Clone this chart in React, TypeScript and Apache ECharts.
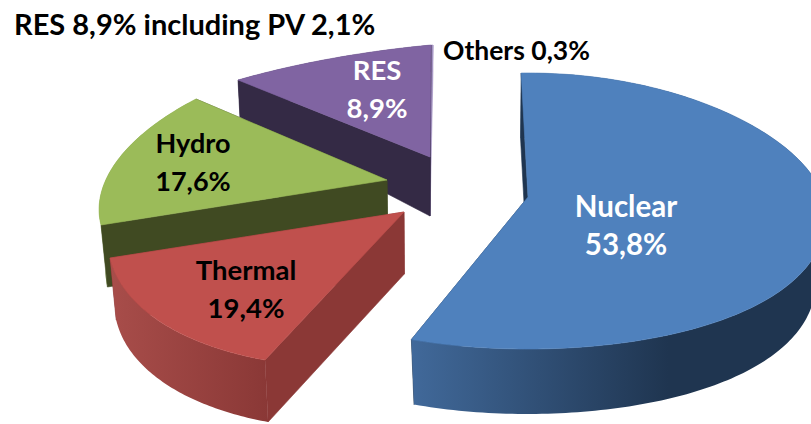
import React, { useEffect, useRef } from "react";
import * as echarts from "echarts";

const titleText = "RES 8,9% including PV 2,1%";
const categories = ["Nuclear", "Thermal", "Hydro", "RES", "Others"];
const shares = [53.8, 19.4, 17.6, 8.9, 0.3];

type Pt = [number, number];
const FONT = "Lato, Carlito, 'Open Sans', sans-serif";

// Layout of the tilted, exploded slices (projection frames; the angles come from the shares).
const sliceLayout: any[] = [
  {
    apex: [528, 197] as Pt, ellipse: { A: 295, p: 0.13, up: 124, down: 152, rot: -1.5, stretch: 1.042 },
    depth: [65, 65], dy: [0, 400], kx: 0.03, pivot: 500,
    top: "#4f81bd", cut: "#1f3550", wall: [[0, "#41699a"], [0.62, "#1f3550"], [1, "#1f3550"]],
  },
  {
    apex: [404, 212] as Pt, from: [265, 360] as Pt, to: [110, 258] as Pt, squash: 0.79,
    depth: [62, 62], dy: [0, 400], kx: 0.02, pivot: 420,
    top: "#c0504d", cut: "#8b3836", wall: [[0, "#a84d4a"], [1, "#8a3836"]],
  },
  {
    apex: [387, 180] as Pt, from: [101, 225] as Pt, to: [196, 99] as Pt, squash: 0.87,
    depth: [62, 62], dy: [0, 400], kx: 0.02, pivot: 420,
    top: "#9bbb59", cut: "#404a22", wall: [[0, "#7f9a48"], [1, "#7f9a48"]],
  },
  {
    apex: [430, 157] as Pt, from: [238, 80] as Pt, to: [431, 45] as Pt, squash: 1,
    depth: [37, 59], dy: [80, 157], kx: 0.01, pivot: 430,
    top: "#8064a2", cut: "#342a45", wall: [[0, "#342a45"], [1, "#342a45"]],
  },
  {
    apex: [430, 157] as Pt, from: [431, 45] as Pt, to: [433, 45] as Pt, squash: 1,
    depth: [37, 59], dy: [80, 157], kx: 0.01, pivot: 430,
    top: "#a696c4", cut: "#a696c4", wall: [[0, "#a696c4"], [1, "#a696c4"]],
  },
];

const labelLayout = [
  { x: 626, y: 224, color: "#ffffff", size: 29.5 },
  { x: 246, y: 288, color: "#000000", size: 27.5 },
  { x: 193, y: 161, color: "#000000", size: 27 },
  { x: 377, y: 88, color: "#ffffff", size: 27.5 },
];

const fmt = (v: number) => v.toFixed(1).replace(".", ",") + "%";
const rad = (d: number) => (d * Math.PI) / 180;

const cumulative: number[] = [];
shares.reduce((sum, v, i) => {
  cumulative[i] = sum;
  return sum + v;
}, 0);
const total = shares.reduce((a, b) => a + b, 0);
const startAngle = (i: number) => (cumulative[i] / total) * 360;
const endAngle = (i: number) => ((cumulative[i] + shares[i]) / total) * 360;

function frameFor(i: number): (deg: number) => Pt {
  const L = sliceLayout[i];
  if (L.ellipse) {
    const e = L.ellipse;
    return (deg) => {
      const t = rad(e.rot + deg * e.stretch);
      const u = Math.sin(t);
      const v = -Math.cos(t);
      return [L.apex[0] + (e.A * u) / (1 - e.p * v), L.apex[1] + v * (v < 0 ? e.up : e.down)];
    };
  }
  const d0 = startAngle(i);
  const d1 = endAngle(i);
  const mid = (d0 + d1) / 2;
  const warp = (deg: number) => rad(mid + (deg - mid) * L.squash);
  const a = warp(d0);
  const b = warp(d1);
  const c1 = Math.cos(a), s1 = Math.sin(a), c2 = Math.cos(b), s2 = Math.sin(b);
  const det = c1 * s2 - c2 * s1;
  const p1 = [L.from[0] - L.apex[0], L.from[1] - L.apex[1]];
  const p2 = [L.to[0] - L.apex[0], L.to[1] - L.apex[1]];
  const up = [(p1[0] * s2 - p2[0] * s1) / det, (p1[1] * s2 - p2[1] * s1) / det];
  const right = [(c1 * p2[0] - c2 * p1[0]) / det, (c1 * p2[1] - c2 * p1[1]) / det];
  return (deg) => {
    const t = warp(deg);
    return [
      L.apex[0] + up[0] * Math.cos(t) + right[0] * Math.sin(t),
      L.apex[1] + up[1] * Math.cos(t) + right[1] * Math.sin(t),
    ];
  };
}

function renderSlice(params: any) {
  const i = shares.length - 1 - params.dataIndex;
  const L = sliceLayout[i];
  const P = frameFor(i);
  const a0 = startAngle(i);
  const a1 = endAngle(i);
  const steps = Math.max(4, Math.ceil(a1 - a0));
  const arc: Pt[] = [];
  for (let s = 0; s <= steps; s++) arc.push(P(a0 + ((a1 - a0) * s) / steps));
  const below = (q: Pt): Pt => {
    const f = (q[1] - L.dy[0]) / (L.dy[1] - L.dy[0]);
    return [q[0] + (L.pivot - q[0]) * L.kx, q[1] + L.depth[0] + (L.depth[1] - L.depth[0]) * f];
  };
  const apex: Pt = L.apex;
  const first = arc[0];
  const last = arc[arc.length - 1];
  const poly = (points: Pt[], fill: any, stroke?: string) => ({
    type: "polygon",
    shape: { points },
    style: { fill, stroke: stroke || "none", lineWidth: stroke ? 0.6 : 0 },
  });
  const wallFill = new echarts.graphic.LinearGradient(
    0, 0, 1, 0,
    L.wall.map((s: any) => ({ offset: s[0], color: s[1] }))
  );
  return {
    type: "group",
    children: [
      poly([apex, last, below(last), below(apex)], L.cut, L.cut),
      poly([...arc, ...arc.slice().reverse().map(below)], wallFill),
      poly([apex, first, below(first), below(apex)], L.cut, L.cut),
      poly([apex, ...arc], L.top, L.top),
    ],
  };
}

export default function App() {
  const ref = useRef<HTMLDivElement>(null);
  useEffect(() => {
    document.body.style.margin = "0";
    const chart = echarts.init(ref.current!, null, { renderer: "svg" });
    const bold = { fontFamily: FONT, fontWeight: 700 };
    const labels = labelLayout.map((l, i) => ({
      type: "text",
      x: l.x,
      y: l.y,
      z: 10,
      style: {
        text: `${categories[i]}\n${fmt(shares[i])}`,
        fill: l.color,
        lineHeight: 38,
        align: "center",
        verticalAlign: "middle",
        ...bold,
        fontSize: l.size,
      },
    }));
    chart.setOption({
      animation: false,
      backgroundColor: "#ffffff",
      series: [
        {
          type: "custom",
          coordinateSystem: "none",
          silent: true,
          data: categories.map((name, i) => ({ name, value: shares[i] })).reverse(),
          renderItem: renderSlice,
        },
      ],
      graphic: [
        ...labels,
        {
          type: "text",
          x: 14,
          y: 23,
          z: 10,
          style: { text: titleText, fill: "#000", align: "left", verticalAlign: "middle", ...bold, fontSize: 29 },
        },
        {
          type: "text",
          x: 443,
          y: 50,
          z: 10,
          style: {
            text: `${categories[4]} ${fmt(shares[4])}`,
            fill: "#000",
            align: "left",
            verticalAlign: "middle",
            ...bold,
            fontSize: 26.5,
          },
        },
      ],
    });
    return () => chart.dispose();
  }, []);
  return <div ref={ref} style={{ width: 811, height: 424 }} />;
}
